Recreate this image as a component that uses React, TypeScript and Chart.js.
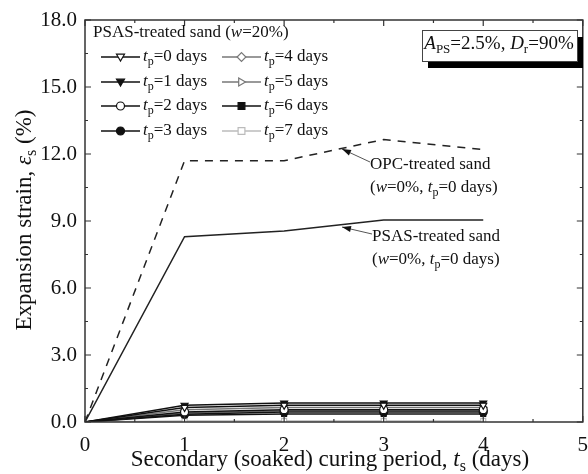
import React, { useEffect, useRef } from "react";
import { Chart, registerables } from "chart.js";

Chart.register(...registerables);

const FONT = '"Liberation Serif", "Times New Roman", serif';

const curingDays = [0, 1, 2, 3, 4];
const opcStrain = [0, 11.7, 11.7, 12.65, 12.2];
const psasDryStrain = [0, 8.3, 8.55, 9.05, 9.05];

const tpLabels = ["0", "1", "2", "3", "4", "5", "6", "7"];
const tp0 = [0, 0.65, 0.75, 0.75, 0.75];
const tp1 = [0, 0.75, 0.85, 0.85, 0.85];
const tp2 = [0, 0.45, 0.55, 0.55, 0.55];
const tp3 = [0, 0.35, 0.45, 0.45, 0.45];
const tp4 = [0, 0.55, 0.65, 0.65, 0.65];
const tp5 = [0, 0.4, 0.5, 0.5, 0.5];
const tp6 = [0, 0.3, 0.36, 0.36, 0.36];
const tp7 = [0, 0.05, 0.05, 0.05, 0.05];
const tpSeries = [tp0, tp1, tp2, tp3, tp4, tp5, tp6, tp7];

const xTicks = [0, 1, 2, 3, 4, 5];
const yTicks = [0, 3, 6, 9, 12, 15, 18];

type MarkerKind = "triDown" | "triRight" | "circle" | "diamond" | "square";
const styles: { kind: MarkerKind; filled: boolean; color: string }[] = [
  { kind: "triDown", filled: false, color: "#111" },
  { kind: "triDown", filled: true, color: "#111" },
  { kind: "circle", filled: false, color: "#111" },
  { kind: "circle", filled: true, color: "#111" },
  { kind: "diamond", filled: false, color: "#777" },
  { kind: "triRight", filled: false, color: "#777" },
  { kind: "square", filled: true, color: "#111" },
  { kind: "square", filled: false, color: "#bbb" },
];

function chartPointStyle(kind: MarkerKind): { ps: any; rot: number } {
  switch (kind) {
    case "triDown":
      return { ps: "triangle", rot: 180 };
    case "triRight":
      return { ps: "triangle", rot: 90 };
    case "circle":
      return { ps: "circle", rot: 0 };
    case "diamond":
      return { ps: "rectRot", rot: 0 };
    default:
      return { ps: "rect", rot: 0 };
  }
}

function drawMarker(ctx: CanvasRenderingContext2D, kind: MarkerKind, x: number, y: number, r: number, filled: boolean, color: string) {
  ctx.save();
  ctx.beginPath();
  if (kind === "circle") {
    ctx.arc(x, y, r, 0, Math.PI * 2);
  } else if (kind === "square") {
    ctx.rect(x - r * 0.85, y - r * 0.85, r * 1.7, r * 1.7);
  } else if (kind === "diamond") {
    ctx.moveTo(x, y - r * 1.1);
    ctx.lineTo(x + r * 1.1, y);
    ctx.lineTo(x, y + r * 1.1);
    ctx.lineTo(x - r * 1.1, y);
    ctx.closePath();
  } else if (kind === "triDown") {
    ctx.moveTo(x - r, y - r * 0.7);
    ctx.lineTo(x + r, y - r * 0.7);
    ctx.lineTo(x, y + r);
    ctx.closePath();
  } else {
    ctx.moveTo(x - r * 0.7, y - r);
    ctx.lineTo(x + r, y);
    ctx.lineTo(x - r * 0.7, y + r);
    ctx.closePath();
  }
  ctx.fillStyle = filled ? color : "#fff";
  ctx.fill();
  ctx.strokeStyle = color;
  ctx.lineWidth = 1.2;
  ctx.stroke();
  ctx.restore();
}

type Seg = { t: string; i?: boolean; sub?: boolean };
function drawRich(ctx: CanvasRenderingContext2D, segs: Seg[], x: number, y: number, size: number, align: "left" | "center") {
  const fontOf = (s: Seg) => `${s.i ? "italic " : ""}${s.sub ? Math.round(size * 0.7) : size}px ${FONT}`;
  let total = 0;
  const widths = segs.map((s) => {
    ctx.font = fontOf(s);
    const w = ctx.measureText(s.t).width;
    total += w;
    return w;
  });
  let cx = align === "center" ? x - total / 2 : x;
  ctx.textAlign = "left";
  ctx.textBaseline = "middle";
  segs.forEach((s, k) => {
    ctx.font = fontOf(s);
    ctx.fillText(s.t, cx, y + (s.sub ? size * 0.3 : 0));
    cx += widths[k];
  });
}

function arrow(ctx: CanvasRenderingContext2D, x1: number, y1: number, x2: number, y2: number) {
  ctx.save();
  ctx.strokeStyle = "#555";
  ctx.fillStyle = "#111";
  ctx.lineWidth = 1;
  ctx.beginPath();
  ctx.moveTo(x1, y1);
  ctx.lineTo(x2, y2);
  ctx.stroke();
  const a = Math.atan2(y2 - y1, x2 - x1);
  const L = 9, W = 3;
  ctx.beginPath();
  ctx.moveTo(x2, y2);
  ctx.lineTo(x2 - L * Math.cos(a) + W * Math.sin(a), y2 - L * Math.sin(a) - W * Math.cos(a));
  ctx.lineTo(x2 - L * Math.cos(a) - W * Math.sin(a), y2 - L * Math.sin(a) + W * Math.cos(a));
  ctx.closePath();
  ctx.fill();
  ctx.restore();
}

const decorPlugin = {
  id: "decor",
  afterDatasetsDraw(chart: any) {
    const ctx: CanvasRenderingContext2D = chart.ctx;
    const { left, right, top, bottom } = chart.chartArea;
    const xs = chart.scales.x;
    const ys = chart.scales.y;
    ctx.save();
    // frame
    ctx.strokeStyle = "#333";
    ctx.lineWidth = 1.5;
    ctx.strokeRect(left, top, right - left, bottom - top);
    // ticks
    ctx.lineWidth = 1.2;
    ctx.beginPath();
    for (let v = 0; v <= 5.001; v += 0.5) {
      const px = xs.getPixelForValue(v);
      const len = Math.abs(v - Math.round(v)) < 1e-6 ? 6 : 3;
      ctx.moveTo(px, bottom);
      ctx.lineTo(px, bottom - len);
      ctx.moveTo(px, top);
      ctx.lineTo(px, top + len);
    }
    for (let v = 0; v <= 18.001; v += 1.5) {
      const py = ys.getPixelForValue(v);
      const len = Math.abs(v / 3 - Math.round(v / 3)) < 1e-6 ? 6 : 3;
      ctx.moveTo(left, py);
      ctx.lineTo(left + len, py);
      ctx.moveTo(right, py);
      ctx.lineTo(right - len, py);
    }
    ctx.stroke();

    ctx.fillStyle = "#111";
    // legend
    drawRich(ctx, [{ t: "PSAS-treated sand (" }, { t: "w", i: true }, { t: "=20%)" }], 93, 33, 17, "left");
    const rowsY = [57, 82, 106, 131];
    tpLabels.forEach((lab, k) => {
      const col = k < 4 ? 0 : 1;
      const row = k % 4;
      const y = rowsY[row];
      const x0 = col === 0 ? 101 : 222;
      const st = styles[k];
      ctx.strokeStyle = st.color;
      ctx.lineWidth = 1.5;
      ctx.beginPath();
      ctx.moveTo(x0, y);
      ctx.lineTo(x0 + 39, y);
      ctx.stroke();
      drawMarker(ctx, st.kind, x0 + 19.5, y, 4, st.filled, st.color);
      ctx.fillStyle = "#111";
      drawRich(ctx, [{ t: "t", i: true }, { t: "p", sub: true }, { t: "=" + lab + " days" }], x0 + 42, y, 17, "left");
    });

    // parameter box
    ctx.fillStyle = "#000";
    ctx.fillRect(428, 37, 155, 31);
    ctx.fillStyle = "#fff";
    ctx.fillRect(422, 30, 155, 31);
    ctx.strokeStyle = "#444";
    ctx.lineWidth = 1;
    ctx.strokeRect(422.5, 30.5, 155, 31);
    ctx.fillStyle = "#111";
    drawRich(ctx, [{ t: "A", i: true }, { t: "PS", sub: true }, { t: "=2.5%, " }, { t: "D", i: true }, { t: "r", sub: true }, { t: "=90%" }], 499, 44, 19, "center");

    // annotations
    arrow(ctx, 370, 162, 342, 149);
    drawRich(ctx, [{ t: "OPC-treated sand" }], 370, 165, 17, "left");
    drawRich(ctx, [{ t: "(" }, { t: "w", i: true }, { t: "=0%, " }, { t: "t", i: true }, { t: "p", sub: true }, { t: "=0 days)" }], 370, 188, 17, "left");
    arrow(ctx, 372, 234, 342, 227);
    drawRich(ctx, [{ t: "PSAS-treated sand" }], 372, 237, 17, "left");
    drawRich(ctx, [{ t: "(" }, { t: "w", i: true }, { t: "=0%, " }, { t: "t", i: true }, { t: "p", sub: true }, { t: "=0 days)" }], 372, 260, 17, "left");

    // axis titles
    drawRich(ctx, [{ t: "Secondary (soaked) curing period, " }, { t: "t", i: true }, { t: "s", sub: true }, { t: " (days)" }], 330, 460, 23, "center");
    ctx.save();
    ctx.translate(25, 220);
    ctx.rotate(-Math.PI / 2);
    drawRich(ctx, [{ t: "Expansion strain, " }, { t: "ε", i: true }, { t: "s", sub: true }, { t: " (%)" }], 0, 0, 23, "center");
    ctx.restore();
    ctx.restore();
  },
};

export default function App() {
  const ref = useRef<HTMLCanvasElement | null>(null);
  useEffect(() => {
    if (!ref.current) return;
    const pts = (arr: number[]) => arr.map((v, k) => ({ x: curingDays[k], y: v }));
    const datasets: any[] = [
      {
        label: "OPC-treated sand (w=0%, tp=0 days)",
        data: pts(opcStrain),
        borderColor: "#222",
        borderWidth: 1.5,
        borderDash: [8, 7],
        pointRadius: 0,
        fill: false,
      },
      {
        label: "PSAS-treated sand (w=0%, tp=0 days)",
        data: pts(psasDryStrain),
        borderColor: "#222",
        borderWidth: 1.5,
        pointRadius: 0,
        fill: false,
      },
    ];
    tpSeries.forEach((arr, k) => {
      const st = styles[k];
      const { ps, rot } = chartPointStyle(st.kind);
      datasets.push({
        label: "tp=" + tpLabels[k] + " days",
        data: pts(arr),
        borderColor: st.color,
        borderWidth: 1.5,
        pointStyle: ps,
        rotation: rot,
        pointRadius: arr.map((_, i) => (i === 0 ? 0 : st.kind === "square" ? 3.5 : 4)),
        pointBackgroundColor: st.filled ? st.color : "#fff",
        pointBorderColor: st.color,
        pointBorderWidth: 1.2,
        fill: false,
      });
    });
    const chart = new Chart(ref.current, {
      type: "line",
      data: { datasets },
      options: {
        animation: false,
        responsive: false,
        layout: { padding: { top: 20, right: 1, left: 0, bottom: 0 } },
        plugins: { legend: { display: false }, tooltip: { enabled: false } },
        scales: {
          x: {
            type: "linear",
            min: 0,
            max: 5,
            afterBuildTicks: (s: any) => {
              s.ticks = xTicks.map((v) => ({ value: v }));
            },
            afterFit: (s: any) => {
              s.height = 52;
              s.paddingLeft = 0;
              s.paddingRight = 0;
            },
            ticks: { color: "#111", font: { family: FONT, size: 21 }, padding: 3, maxRotation: 0, autoSkip: false },
            grid: { display: false },
            border: { display: false },
          },
          y: {
            type: "linear",
            min: 0,
            max: 18,
            afterBuildTicks: (s: any) => {
              s.ticks = yTicks.map((v) => ({ value: v }));
            },
            afterFit: (s: any) => {
              s.width = 85;
              s.paddingTop = 0;
              s.paddingBottom = 0;
            },
            ticks: {
              color: "#111",
              font: { family: FONT, size: 21 },
              padding: 0,
              callback: (v: any) => Number(v).toFixed(1),
            },
            grid: { display: false },
            border: { display: false },
          },
        },
      },
      plugins: [decorPlugin],
    });
    return () => chart.destroy();
  }, []);
  return (
    <div style={{ position: "absolute", left: 0, top: 0, width: 588, height: 474, background: "#fff" }}>
      <canvas ref={ref} width={588} height={474} />
    </div>
  );
}
